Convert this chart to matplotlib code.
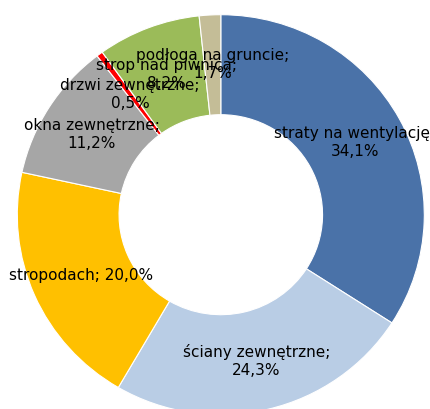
import numpy as np
from matplotlib import pyplot as plt

labels = ['straty na wentylację', 'ściany zewnętrzne', 'stropodach',
          'okna zewnętrzne', 'drzwi zewnętrzne', 'strop nad piwnicą',
          'podłoga na gruncie']
values = [34.1, 24.3, 20.0, 11.2, 0.5, 8.2, 1.7]
two_lines = [True, True, False, True, True, True, True]
colors = ['#4A72A8', '#B9CDE5', '#FFC000', '#A6A6A6', '#FF0000', '#9BBB59', '#C4BD97']

fig = plt.figure(figsize=(4.31, 4.09), dpi=100)
ax = fig.add_axes([17.3 / 431, -5.7 / 409, 407 / 431, 400 / 409])

wedges, _ = ax.pie(values, colors=colors, startangle=90, counterclock=False,
                   radius=1.0, wedgeprops=dict(width=0.5, edgecolor='white', linewidth=0.8))
ax.set_aspect('auto')
ax.set_xlim(-1, 1)
ax.set_ylim(-1, 1)
ax.axis('off')

for w, lab, val, two in zip(wedges, labels, values, two_lines):
    ang = np.deg2rad((w.theta1 + w.theta2) / 2)
    x, y = 0.75 * np.cos(ang), 0.75 * np.sin(ang)
    pct = f'{val:.1f}%'.replace('.', ',')
    txt = f'{lab};\n{pct}' if two else f'{lab}; {pct}'
    ax.text(x, y, txt, ha='center', va='center', fontsize=11, linespacing=1.25)

fig.savefig('out.png', dpi=100)
